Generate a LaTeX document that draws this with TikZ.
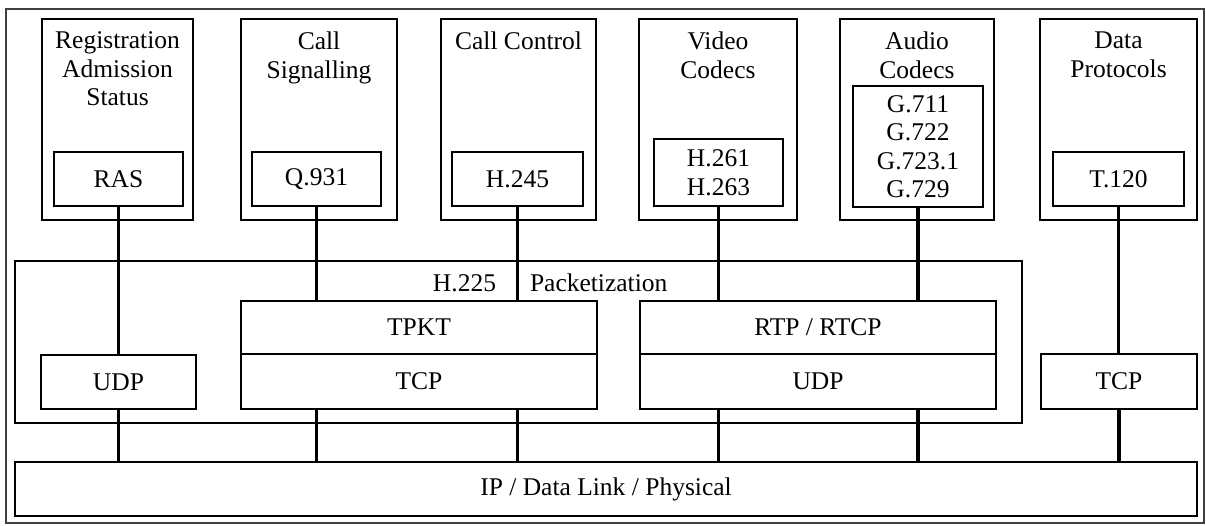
\documentclass[tikz,border=0pt]{standalone}
\usepackage{fontspec}
\setmainfont{Liberation Serif}
\begin{document}
\begin{tikzpicture}[x=1pt,y=-1pt,
  every node/.style={font=\fontsize{25.5}{28.5}\selectfont, inner sep=0pt, outer sep=0pt},
  box/.style={draw, line width=2.7pt, align=center},
  frame/.style={draw=black!75, line width=1.4pt},
  conn/.style={line width=3.3pt},
  title/.style={anchor=north, align=center}]
\useasboundingbox (0,0) rectangle (1206,525);
% outer frame
\node[frame, minimum width=1198, minimum height=514] (frame) at (605,266) {};

% application groups on top
\foreach \n/\l/\r in {g1/42/193, g2/241/397, g3/441/596, g4/639/797, g5/840/994, g6/1040/1197}
  \node[box, minimum width=\r-\l, minimum height=201] (\n) at ({(\l+\r)/2},119.5) {};

\node[title] (t1) at (g1.north |- 0,32) {Registration\\Admission\\Status};
\node[title] (t2) at (g2.north |- 0,32) {Call\\Signalling};
\node[title] (t3) at (g3.north |- 0,32) {Call Control};
\node[title] (t4) at (g4.north |- 0,32) {Video\\Codecs};
\node[title] (t5) at (g5.north |- 0,32) {Audio\\Codecs};
\node[title] (t6) at (g6.north |- 0,32) {Data\\Protocols};

% protocols inside the groups
\node[box, minimum width=129, minimum height=54] (ras)  at (118.5,179) {RAS};
\node[box, minimum width=129, minimum height=54] (q931) at (316.5,179) {Q.931};
\node[box, minimum width=131, minimum height=54] (h245) at (517.5,179) {H.245};
\node[box, minimum width=129, minimum height=67] (vid)  at (718.5,172.5) {H.261\\H.263};
\node[box, minimum width=130, minimum height=121] (aud) at (918,146.5) {G.711\\G.722\\G.723.1\\G.729};
\node[box, minimum width=131, minimum height=54] (t120) at (1118.5,179) {T.120};

% H.225 packetization layer
\node[box, minimum width=1007, minimum height=162] (h225) at (518.5,342) {};
\node[anchor=east] (h225a) at (496,283) {H.225};
\node[anchor=west] (h225b) at (530,283) {Packetization};

\node[box, minimum width=155, minimum height=54] (udp1) at (118.5,382) {UDP};
\node[box, minimum width=356, minimum height=53] (tpkt) at (419,327.5) {TPKT};
\node[box, minimum width=356, minimum height=55] (tcp1) at (419,381.5) {TCP};
\node[box, minimum width=356, minimum height=53] (rtp)  at (818,327.5) {RTP / RTCP};
\node[box, minimum width=356, minimum height=55] (udp2) at (818,381.5) {UDP};
\node[box, minimum width=156, minimum height=55] (tcp2) at (1119,381.5) {TCP};

% network layer
\node[box, minimum width=1182, minimum height=54] (ip) at (606,489) {IP / Data Link / Physical};

% links from the protocols down to the transport layer
\draw[conn] (ras.south) -- (udp1.north);
\draw[conn] (q931.south) -- (q931.south |- tpkt.north);
\draw[conn] (h245.south) -- (h245.south |- tpkt.north);
\draw[conn] (vid.south) -- (vid.south |- rtp.north);
\draw[conn] (aud.south) -- (aud.south |- rtp.north);
\draw[conn] (t120.south) -- (t120.south |- tcp2.north);

% links from the transport layer down to IP
\draw[conn] (udp1.south) -- (udp1.south |- ip.north);
\draw[conn] (q931.south |- tcp1.south) -- (q931.south |- ip.north);
\draw[conn] (h245.south |- tcp1.south) -- (h245.south |- ip.north);
\draw[conn] (vid.south |- udp2.south) -- (vid.south |- ip.north);
\draw[conn] (aud.south |- udp2.south) -- (aud.south |- ip.north);
\draw[conn] (tcp2.south) -- (tcp2.south |- ip.north);
\end{tikzpicture}
\end{document}
